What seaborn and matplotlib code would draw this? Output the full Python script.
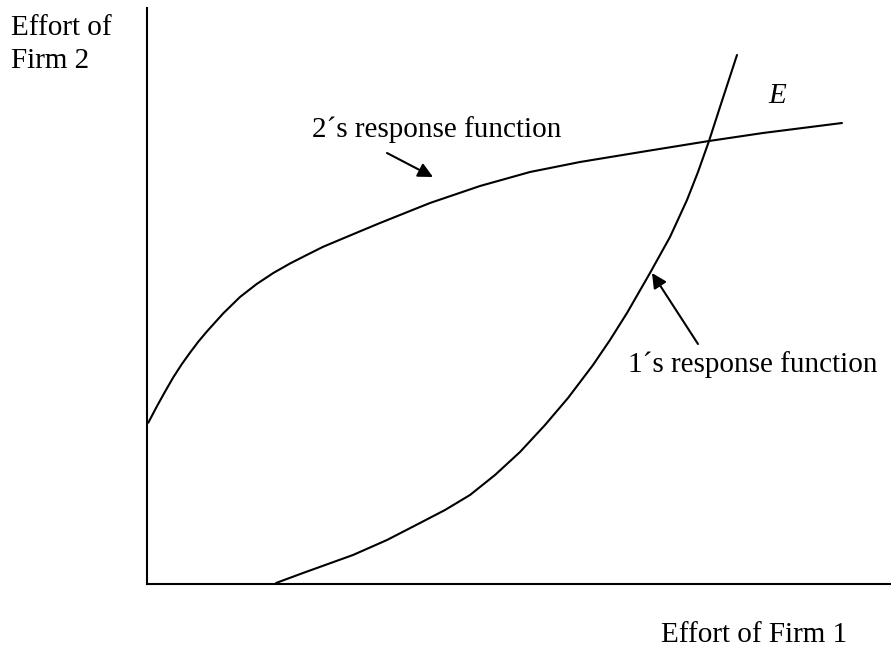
import numpy as np
import pandas as pd
import seaborn as sns
import matplotlib.pyplot as plt

# curve points (x = effort of firm 1, y = effort of firm 2)
firm2_x = [1.3, 9.7, 18, 26.3, 34.7, 43, 51.3, 59.7, 76.3, 93, 109.7, 126.3, 143,
           159.7, 176.3, 209.7, 233, 253, 283, 333, 383, 433, 500, 562, 616, 695]
firm2_y = [161.3, 177.3, 192.3, 206.7, 219.7, 231.3, 242.3, 252.3, 270.7, 287, 300,
           311, 320.5, 329, 337.3, 351.3, 361, 369, 381, 398, 412, 422, 433, 443, 451, 461]

firm1_x = [129, 156, 181, 206, 240, 273, 298, 323, 348, 373, 398, 421, 446, 463,
           480, 503, 523, 540, 551, 562, 573, 590]
firm1_y = [1, 11, 20, 29, 44, 61, 74, 89, 109, 132, 159, 186, 219, 244,
           271, 311, 347, 384, 412, 443, 477, 529]

# arrows: (tail, tip)
arrow2 = ((240, 431), (286, 407))
arrow1 = ((551, 240), (505, 311))

df2 = pd.DataFrame({"x": firm2_x, "y": firm2_y})
df1 = pd.DataFrame({"x": firm1_x, "y": firm1_y})

sns.set_theme(style="white")
plt.rcParams["font.family"] = ["Liberation Serif", "DejaVu Serif"]
plt.rcParams["text.color"] = "black"

W, H = 891, 650
fig = plt.figure(figsize=(W / 100, H / 100), dpi=100)
ax = fig.add_axes([147 / W, (H - 584) / H, (W - 147) / W, (584 - 8) / H])

sns.lineplot(data=df2, x="x", y="y", color="black", linewidth=1.5, estimator=None, ax=ax)
sns.lineplot(data=df1, x="x", y="y", color="black", linewidth=1.5, estimator=None, ax=ax)

ax.set_xlim(0, 744)
ax.set_ylim(0, 576)
ax.set_xticks([])
ax.set_yticks([])
ax.set_xlabel("")
ax.set_ylabel("")
sns.despine(ax=ax)
for s in ["left", "bottom"]:
    ax.spines[s].set_color("black")
    ax.spines[s].set_linewidth(1.5)

for tail, tip in [arrow2, arrow1]:
    ax.annotate("", xy=tip, xytext=tail,
                arrowprops=dict(arrowstyle="-|>", color="black", lw=1.5,
                                mutation_scale=22, shrinkA=0, shrinkB=0))

fs = 21
ax.text(312 - 147, 584 - 137, "2\u00b4s response function", fontsize=fs, color="black",
        va="baseline", ha="left")
ax.text(628 - 147, 584 - 372, "1\u00b4s response function", fontsize=fs, color="black",
        va="baseline", ha="left")
ax.text(768 - 147, 584 - 103, "E", fontsize=fs, style="italic", color="black",
        va="baseline", ha="left")

fig.text(11 / W, (H - 35) / H, "Effort of", fontsize=fs, color="black", va="baseline", ha="left")
fig.text(11 / W, (H - 68) / H, "Firm 2", fontsize=fs, color="black", va="baseline", ha="left")
fig.text(661 / W, (H - 642) / H, "Effort of Firm 1", fontsize=fs, color="black",
         va="baseline", ha="left")

fig.savefig("out.png", dpi=100)
